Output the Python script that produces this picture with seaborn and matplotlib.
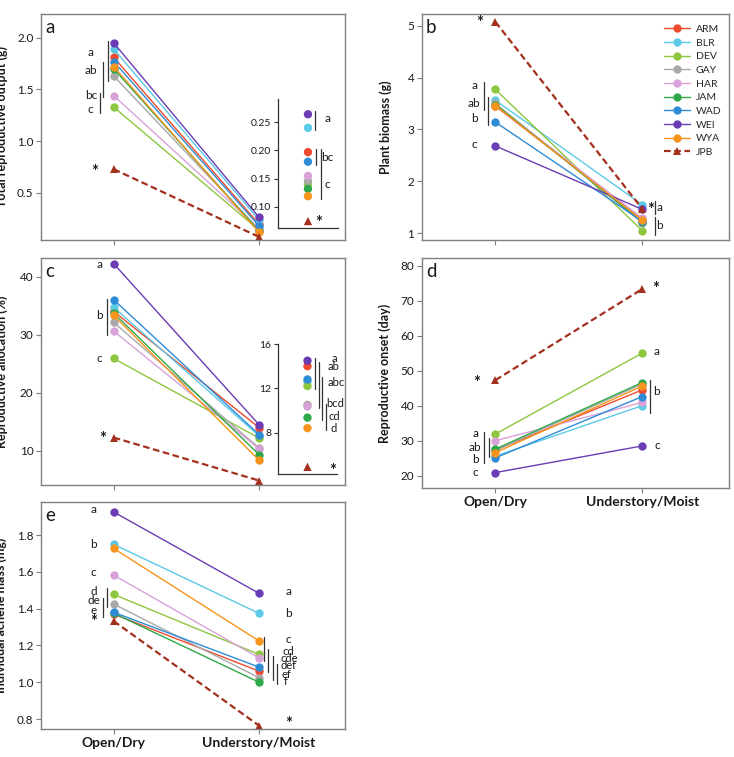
import matplotlib
matplotlib.use("Agg")
import matplotlib.pyplot as plt
import pandas as pd
import seaborn as sns

sns.set_theme(style="white")
plt.rcParams["font.family"] = ["Lato", "DejaVu Sans"]

# site order as in the legend
sites = ["ARM", "BLR", "DEV", "GAY", "HAR", "JAM", "WAD", "WEI", "WYA", "JPB"]
colors = ["#EF4A2E", "#5CC9E6", "#8DC63F", "#A9A9A9", "#D8A2D8",
          "#2EA84A", "#2E8CD6", "#6A3CB5", "#F7941D", "#A3301C"]
habitats = ["Open/Dry", "Understory/Moist"]

# a: total reproductive output (g)
a_open = [1.81, 1.89, 1.33, 1.63, 1.44, 1.70, 1.77, 1.95, 1.72, 0.73]
a_under = [0.197, 0.240, 0.140, 0.146, 0.155, 0.132, 0.180, 0.264, 0.119, 0.075]
# b: plant biomass (g)
b_open = [3.45, 3.56, 3.77, 3.50, 3.47, 3.48, 3.14, 2.68, 3.46, 5.07]
b_under = [1.26, 1.55, 1.05, 1.20, 1.29, 1.22, 1.23, 1.46, 1.25, 1.47]
# c: reproductive allocation (%)
c_open = [34.0, 34.7, 25.9, 32.1, 30.6, 33.7, 36.0, 42.2, 33.3, 12.3]
c_under = [14.0, 12.6, 12.2, 10.5, 10.35, 9.35, 12.8, 14.5, 8.4, 4.9]
# d: reproductive onset (day)
d_open = [27.3, 25.6, 31.9, 27.2, 30.0, 27.6, 25.1, 20.9, 26.6, 47.3]
d_under = [44.5, 40.0, 55.0, 46.2, 40.9, 46.6, 42.6, 28.5, 45.6, 73.3]
# e: individual achene mass (mg)
e_open = [1.37, 1.749, 1.477, 1.425, 1.582, 1.375, 1.380, 1.925, 1.727, 1.332]
e_under = [1.06, 1.374, 1.151, 1.024, 1.132, 1.000, 1.082, 1.483, 1.224, 0.764]

palette = dict(zip(sites, colors))
markers = {s: "o" for s in sites}
markers["JPB"] = "^"
dashes = {s: "" for s in sites}
dashes["JPB"] = (3, 1.6)
sizes = {s: 1.0 for s in sites}
sizes["JPB"] = 1.6

GRAY = "#7f7f7f"
TXT = "#1a1a1a"


def long_df(open_vals, under_vals):
    rows = []
    for s, o, u in zip(sites, open_vals, under_vals):
        rows.append({"site": s, "x": 0, "val": o})
        rows.append({"site": s, "x": 1, "val": u})
    return pd.DataFrame(rows)


def panel(ax, open_vals, under_vals, ylim, yticks, fmt, ylabel, label_x,
          letter, legend=False):
    df = long_df(open_vals, under_vals)
    sns.lineplot(data=df, x="x", y="val", hue="site", style="site", size="site",
                 hue_order=sites, style_order=sites, size_order=sites,
                 palette=palette, markers=markers, dashes=dashes, sizes=sizes,
                 markersize=6, markeredgewidth=0, legend=legend, ax=ax)
    ax.set_xlim(-0.5, 1.59)
    ax.set_ylim(*ylim)
    ax.set_yticks(yticks)
    ax.set_yticklabels([fmt.format(t) for t in yticks], fontsize=8.5, color=TXT)
    ax.set_xticks([0, 1])
    ax.set_xticklabels([])
    ax.set_xlabel("")
    ax.set_ylabel(ylabel, fontsize=9, fontweight="bold", color=TXT)
    ax.yaxis.set_label_coords(label_x, 0.5)
    ax.tick_params(axis="both", direction="out", length=3.5, width=0.8,
                   color=GRAY, left=True, bottom=True, pad=2)
    for sp in ax.spines.values():
        sp.set_color(GRAY)
        sp.set_linewidth(1.0)
    ax.text(0.03, 0.94, letter, transform=ax.transAxes, fontsize=13.5,
            color=TXT, va="center", ha="center")


def letters(ax, items, size=8.5):
    for x, y, t in items:
        if t == "*":
            ax.text(x, y, t, ha="center", va="center_baseline", fontsize=12,
                    color=TXT, clip_on=False, fontweight="bold")
        else:
            ax.text(x, y, t, ha="center", va="center", fontsize=size,
                    color=TXT, clip_on=False)


def bars(ax, items):
    for x, y0, y1 in items:
        ax.plot([x, x], [y0, y1], color="#333333", lw=0.9, clip_on=False)


def inset(fig, rect, vals, ylim, yticks, fmt):
    ax = fig.add_axes(rect)
    df = pd.DataFrame({"site": sites, "x": [0.5] * len(sites), "val": vals})
    sns.scatterplot(data=df, x="x", y="val", hue="site", style="site",
                    hue_order=sites, style_order=sites, palette=palette,
                    markers=markers, s=36, linewidth=0, legend=False, ax=ax,
                    clip_on=False)
    ax.set_xlim(0, 1)
    ax.set_ylim(*ylim)
    ax.set_yticks(yticks)
    ax.set_yticklabels([fmt.format(t) for t in yticks], fontsize=7.5, color=TXT)
    ax.set_xticks([])
    ax.set_xlabel("")
    ax.set_ylabel("")
    ax.patch.set_alpha(0)
    ax.spines["top"].set_visible(False)
    ax.spines["right"].set_visible(False)
    for sp in ("left", "bottom"):
        ax.spines[sp].set_color("#333333")
        ax.spines[sp].set_linewidth(0.9)
    ax.tick_params(axis="y", direction="out", length=3, width=0.8,
                   color="#333333", left=True, pad=2)
    return ax


fig = plt.figure(figsize=(7.34, 7.57), dpi=100)

ax_a = fig.add_axes([0.0559, 0.683, 0.414, 0.2986])
ax_b = fig.add_axes([0.575, 0.683, 0.418, 0.2986])
ax_c = fig.add_axes([0.0559, 0.3593, 0.414, 0.300])
ax_d = fig.add_axes([0.575, 0.3554, 0.418, 0.304])
ax_e = fig.add_axes([0.0559, 0.037, 0.414, 0.300])

# a
panel(ax_a, a_open, a_under, (0.046, 2.23), [0.5, 1.0, 1.5, 2.0], "{:.1f}",
      "Total reproductive output (g)", -0.108, "a")
letters(ax_a, [(-0.158, 1.855, "a"), (-0.158, 1.68, "ab"),
               (-0.158, 1.44, "bc"), (-0.158, 1.31, "c"),
               (-0.128, 0.72, "*")])
bars(ax_a, [(-0.039, 1.97, 1.58), (-0.071, 1.77, 1.43), (-0.096, 1.47, 1.27)])
ins_a = inset(fig, [0.3787, 0.6988, 0.0817, 0.1704], a_under,
              (0.0627, 0.291), [0.10, 0.15, 0.20, 0.25], "{:.2f}")
letters(ins_a, [(0.83, 0.256, "a"), (0.83, 0.187, "bc"), (0.83, 0.140, "c"),
                (0.68, 0.075, "*")])
bars(ins_a, [(0.62, 0.269, 0.236), (0.63, 0.2025, 0.174),
             (0.72, 0.2025, 0.114)])

# b
panel(ax_b, b_open, b_under, (0.87, 5.225), [1, 2, 3, 4, 5], "{:.0f}",
      "Plant biomass (g)", -0.097, "b", legend=True)
sns.move_legend(ax_b, "upper right", bbox_to_anchor=(1.0, 0.985), title=None,
                frameon=False, fontsize=7.5, handlelength=2.5, labelspacing=0.42,
                handletextpad=0.6, borderaxespad=0.3)
letters(ax_b, [(-0.144, 3.84, "a"), (-0.144, 3.50, "ab"),
               (-0.144, 3.21, "b"), (-0.144, 2.70, "c"),
               (-0.11, 5.07, "*")])
bars(ax_b, [(-0.08, 3.91, 3.38), (-0.048, 3.62, 3.08)])
letters(ax_b, [(1.06, 1.47, "*"), (1.12, 1.50, "a"), (1.12, 1.15, "b")])
bars(ax_b, [(1.085, 1.63, 1.37), (1.085, 1.32, 0.97)])

# c
panel(ax_c, c_open, c_under, (4.14, 43.2), [10, 20, 30, 40], "{:.0f}",
      "Reproductive allocation (%)", -0.108, "c")
letters(ax_c, [(-0.096, 42.0, "a"), (-0.096, 33.3, "b"), (-0.096, 25.9, "c"),
               (-0.077, 12.3, "*")])
bars(ax_c, [(-0.043, 36.1, 30.0)])
ins_c = inset(fig, [0.3787, 0.3738, 0.0804, 0.1717], c_under,
              (4.25, 16), [8, 12, 16], "{:.0f}")
letters(ins_c, [(0.95, 14.67, "a"), (0.94, 13.98, "ab"), (0.98, 12.56, "abc"),
                (0.97, 10.65, "bcd"), (0.95, 9.44, "cd"), (0.94, 8.39, "d"),
                (0.92, 4.7, "*")], size=8)
bars(ins_c, [(0.63, 14.73, 11.92), (0.70, 14.34, 10.2), (0.75, 13.0, 9.14),
             (0.81, 10.6, 8.24)])

# d
panel(ax_d, d_open, d_under, (16.5, 82.2), [20, 30, 40, 50, 60, 70, 80],
      "{:.0f}", "Reproductive onset (day)", -0.1, "d")
ax_d.set_xticklabels(habitats, fontsize=10, fontweight="bold", color=TXT)
letters(ax_d, [(-0.137, 32.1, "a"), (-0.137, 28.1, "ab"),
               (-0.137, 24.7, "b"), (-0.137, 20.9, "c"),
               (-0.128, 47.0, "*")])
bars(ax_d, [(-0.075, 32.6, 23.5), (-0.046, 30.7, 25.3)])
letters(ax_d, [(1.091, 73.8, "*"), (1.10, 55.5, "a"), (1.10, 44.0, "b"),
               (1.10, 28.5, "c")])
bars(ax_d, [(1.052, 47.3, 38.0)])

# e
panel(ax_e, e_open, e_under, (0.746, 1.98), [0.8, 1.0, 1.2, 1.4, 1.6, 1.8],
      "{:.1f}", "Individual achene mass (mg)", -0.112, "e")
ax_e.set_xticklabels(habitats, fontsize=10, fontweight="bold", color=TXT)
letters(ax_e, [(-0.139, 1.94, "a"), (-0.139, 1.75, "b"), (-0.139, 1.595, "c"),
               (-0.139, 1.495, "d"), (-0.139, 1.443, "de"),
               (-0.139, 1.392, "e"), (-0.139, 1.337, "*")])
bars(ax_e, [(-0.043, 1.51, 1.41), (-0.071, 1.457, 1.357)])
letters(ax_e, [(1.20, 1.492, "a"), (1.20, 1.374, "b"), (1.20, 1.232, "c")])
letters(ax_e, [(1.20, 1.165, "cd"), (1.205, 1.129, "cde"),
               (1.205, 1.093, "def"), (1.19, 1.042, "ef"),
               (1.185, 1.002, "f"), (1.20, 0.78, "*")], size=8)
bars(ax_e, [(1.034, 1.245, 1.118), (1.064, 1.18, 1.055),
            (1.094, 1.14, 1.01), (1.121, 1.10, 0.99)])

fig.savefig("out.png", dpi=100)
